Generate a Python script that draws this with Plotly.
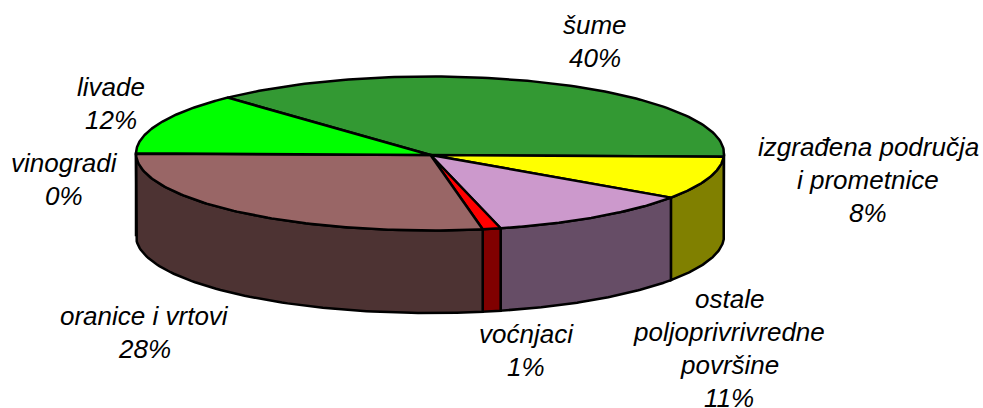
import numpy as np
import plotly.graph_objects as go

categories = ["šume", "izgrađena područja i prometnice", "ostale poljoprivrivredne površine",
              "voćnjaci", "oranice i vrtovi", "vinogradi", "livade"]
values = [40, 8, 11, 1, 28, 0, 12]
top_colors = ["#339933", "#FFFF00", "#CC99CC", "#FF0000", "#996666", "#663399", "#00FF00"]
side_colors = ["#1A4D1A", "#808000", "#664D66", "#800000", "#4D3333", "#331A4D", "#008000"]
label_lines = [["šume"], ["izgrađena područja", "i prometnice"],
               ["ostale", "poljoprivrivredne", "površine"], ["voćnjaci"],
               ["oranice i vrtovi"], ["vinogradi"], ["livade"]]
label_anchor = [(595, 25), (868, 147), (729, 299), (526, 334), (144, 316), (64, 163), (111, 87)]

CX, CY, RX, RY, DEPTH = 430.0, 153.5, 294.0, 77.0, 82.5
APEX = (430.5, 155.0)
START = -46.0
LINE_STEP = 33.0
# Excel's 3-D view compresses the far side of the pie slightly
warp_in = [-46, 98, 127, 166, 271, 314]
warp_out = [-43.5, 92.5, 125.2, 165.7, 270, 316.5]


def view_angle(a):
    return np.interp(a, warp_in, warp_out)


def rim(a, dy=0.0):
    t = np.radians(a)
    return CX + RX * np.sin(t), CY - RY * np.cos(t) + dy


fracs = np.array(values, dtype=float) / sum(values) * 360
ends = START + np.cumsum(fracs)
starts = ends - fracs

fig = go.Figure()


def add_poly(x, y, color):
    fig.add_trace(go.Scatter(x=x, y=y, mode="lines", fill="toself", fillcolor=color,
                             line=dict(color="black", width=2.5), hoverinfo="skip",
                             showlegend=False))


# walls: only the front half of the rim (90..270 degrees) is visible
for a0, a1, col, v in zip(starts, ends, side_colors, values):
    if v == 0:
        continue
    lo, hi = max(view_angle(a0), 90), min(view_angle(a1), 270)
    if hi <= lo:
        continue
    arc = np.linspace(lo, hi, 80)
    tx, ty = rim(arc)
    bx, by = rim(arc[::-1], DEPTH)
    add_poly(np.r_[tx, bx, tx[0]], np.r_[ty, by, ty[0]], col)

# tops
for a0, a1, col, v in zip(starts, ends, top_colors, values):
    if v == 0:
        continue
    arc = np.linspace(view_angle(a0), view_angle(a1), 120)
    x, y = rim(arc)
    add_poly(np.r_[APEX[0], x, APEX[0]], np.r_[APEX[1], y, APEX[1]], col)

annotations = []
for lines, v, (ax, ay) in zip(label_lines, values, label_anchor):
    for i, txt in enumerate(lines + [f"{v}%"]):
        annotations.append(dict(x=ax, y=ay + i * LINE_STEP, xref="x", yref="y", text=f"<i>{txt}</i>",
                                showarrow=False, xanchor="center", yanchor="middle",
                                font=dict(family="Liberation Sans", size=26, color="black")))

fig.update_layout(width=983, height=408, autosize=False, margin=dict(l=0, r=0, t=0, b=0),
                  paper_bgcolor="white", plot_bgcolor="white", showlegend=False,
                  xaxis=dict(range=[0, 983], visible=False, fixedrange=True),
                  yaxis=dict(range=[408, 0], visible=False, fixedrange=True),
                  annotations=annotations)
fig.write_html("out.html", config={"displayModeBar": False},
               post_script="document.body.style.margin='0';document.body.style.overflow='hidden';")
